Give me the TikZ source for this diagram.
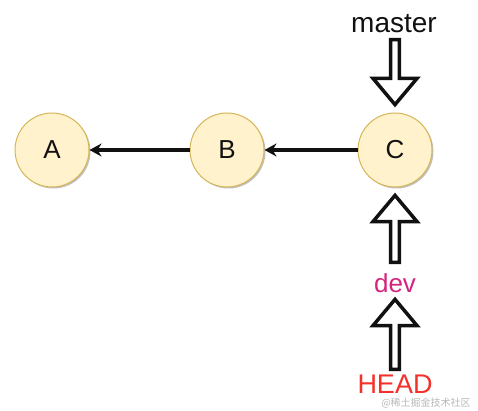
\documentclass[tikz,border=0pt]{standalone}
\usepackage{fontspec}
\setmainfont{Liberation Sans}
\newfontfamily\cjkfont{Noto Sans CJK SC}
\usetikzlibrary{arrows.meta,shapes.arrows,shadows}
\definecolor{ink}{HTML}{111111}
\definecolor{commitFill}{HTML}{FFF2CC}
\definecolor{commitDraw}{HTML}{D6B656}
\definecolor{devPink}{HTML}{D4247F}
\definecolor{headRed}{HTML}{F5302A}
\definecolor{markGray}{HTML}{B8B8B8}
\tikzset{
  base/.style={font=\fontsize{26}{30}\selectfont, text=ink},
  commit/.style={base, circle, draw=commitDraw, fill=commitFill, line width=1pt, minimum size=74pt, inner sep=0pt,
    drop shadow={shadow xshift=1.5pt, shadow yshift=-1.5pt, opacity=0.25, fill=black}},
  link/.style={-{Stealth[length=12pt,width=13pt]}, line width=3.5pt, draw=ink},
  pointer/.style={single arrow, draw=ink, fill=white, line width=3.5pt, inner sep=0pt, minimum width=44pt,
    single arrow head extend=7pt, single arrow tip angle=80},
  ref/.style={base, inner sep=0pt},
  watermark/.style={font=\cjkfont\fontsize{10}{12}\selectfont, text=markGray, inner sep=0pt},
}

\begin{document}
\begin{tikzpicture}[x=1pt,y=-1pt]
  \useasboundingbox (0,0) rectangle (478,411);

  % commits
  \node[commit] (A) at (52,150) {A};
  \node[commit] (B) at (227,150) {B};
  \node[commit] (C) at (395,150) {C};

  \draw[link] (B) -- (A);
  \draw[link] (C) -- (B);

  % branch pointers
  \node[ref, font=\fontsize{28}{32}\selectfont] (master) at (394,24) {master};
  \node[pointer, minimum height=65pt, shape border rotate=270] (mpointer) at (395,69.5) {};
  \node[pointer, minimum height=67pt, shape border rotate=90] (dpointer) at (395,231.5) {};
  \node[ref, text=devPink] (dev) at (395,283) {dev};
  \node[pointer, minimum height=70pt, shape border rotate=90] (hpointer) at (395,337) {};
  \node[ref, text=headRed, font=\fontsize{27}{31}\selectfont] (head) at (395,384) {HEAD};

  \node[watermark] (wmark) at (426,403) {@稀土掘金技术社区};
\end{tikzpicture}
\end{document}
